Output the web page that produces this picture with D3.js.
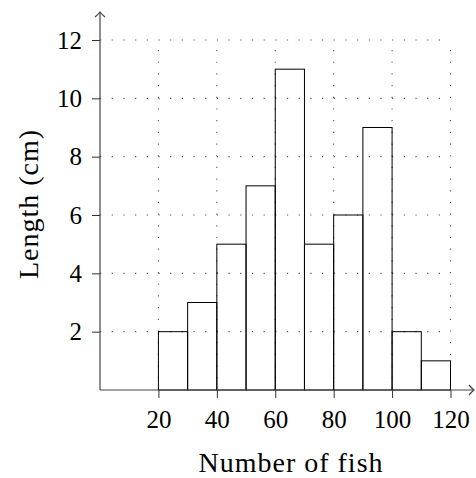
<!DOCTYPE html>
<html>
<head>
<meta charset="utf-8">
<script src="https://cdn.jsdelivr.net/npm/d3@7"></script>
<style>
  html, body { margin: 0; padding: 0; background: #fff; }
  svg { display: block; }
  text { font-family: "Liberation Serif", "Times New Roman", serif; fill: #000; }
</style>
</head>
<body>
<svg id="chart" width="476" height="478"></svg>
<script>
// ---- data ----
const binStarts = [20, 30, 40, 50, 60, 70, 80, 90, 100, 110];
const binWidth = 10;
const counts = [2, 3, 5, 7, 11, 5, 6, 9, 2, 1];
const xTicks = [20, 40, 60, 80, 100, 120];
const yTicks = [2, 4, 6, 8, 10, 12];
const xTitle = "Number of fish";
const yTitle = "Length (cm)";

// ---- layout ----
const svg = d3.select("#chart");
const x = d3.scaleLinear().domain([0, 120]).range([100, 450.5]);
const y = d3.scaleLinear().domain([0, 12]).range([390, 40]);
const dotGap = (x(20) - x(0)) / 5;

// grid (dotted)
const grid = svg.append("g");
grid.selectAll("line.h").data(yTicks).join("line")
  .attr("x1", x(0)).attr("x2", x(120))
  .attr("y1", d => y(d)).attr("y2", d => y(d))
  .attr("stroke", "#555").attr("stroke-width", 1.1)
  .attr("stroke-dasharray", `1.2 ${dotGap - 1.2}`);
grid.selectAll("line.v").data(xTicks).join("line")
  .attr("x1", d => x(d)).attr("x2", d => x(d))
  .attr("y1", y(0)).attr("y2", y(12))
  .attr("stroke", "#555").attr("stroke-width", 1.1)
  .attr("stroke-dasharray", `1.2 ${dotGap - 1.2}`);

// bars
svg.append("g").selectAll("rect").data(binStarts).join("rect")
  .attr("x", (d) => x(d))
  .attr("width", d => x(d + binWidth) - x(d))
  .attr("y", (d, i) => y(counts[i]))
  .attr("height", (d, i) => y(0) - y(counts[i]))
  .attr("fill", "none")
  .attr("stroke", "#000")
  .attr("stroke-width", 1);

// axes
const xAxis = svg.append("g")
  .attr("transform", `translate(0,${y(0)})`)
  .call(d3.axisBottom(x).tickValues(xTicks).tickSize(8).tickPadding(12.5).tickSizeOuter(0));
const yAxis = svg.append("g")
  .attr("transform", `translate(${x(0)},0)`)
  .call(d3.axisLeft(y).tickValues(yTicks).tickSize(8).tickPadding(10).tickSizeOuter(0));
[xAxis, yAxis].forEach(a => {
  a.select(".domain").remove();
  a.selectAll(".tick line").attr("stroke", "#333");
  a.selectAll(".tick text")
    .style("font-family", '"Liberation Serif", serif')
    .style("font-size", "25px")
    .attr("fill", "#000");
});

// axis lines with arrows
const axisG = svg.append("g").attr("stroke", "#444").attr("fill", "none").attr("stroke-width", 1.2);
const xEnd = 474, yEnd = 12;
axisG.append("line").attr("x1", x(0)).attr("x2", xEnd).attr("y1", y(0)).attr("y2", y(0));
axisG.append("line").attr("x1", x(0)).attr("x2", x(0)).attr("y1", y(0)).attr("y2", yEnd);
axisG.append("path")
  .attr("d", `M${xEnd - 5},${y(0) - 5} Q${xEnd - 2},${y(0) - 1.5} ${xEnd},${y(0)} Q${xEnd - 2},${y(0) + 1.5} ${xEnd - 5},${y(0) + 5}`);
axisG.append("path")
  .attr("d", `M${x(0) - 5},${yEnd + 5} Q${x(0) - 1.5},${yEnd + 2} ${x(0)},${yEnd} Q${x(0) + 1.5},${yEnd + 2} ${x(0) + 5},${yEnd + 5}`);

// titles
svg.append("text")
  .attr("x", 291).attr("y", 472)
  .attr("text-anchor", "middle")
  .style("font-size", "28px").style("letter-spacing", "1px")
  .text(xTitle);
svg.append("text")
  .attr("transform", "translate(38,204) rotate(-90)")
  .attr("text-anchor", "middle")
  .style("font-size", "28px").style("letter-spacing", "1px")
  .text(yTitle);
</script>
</body>
</html>
